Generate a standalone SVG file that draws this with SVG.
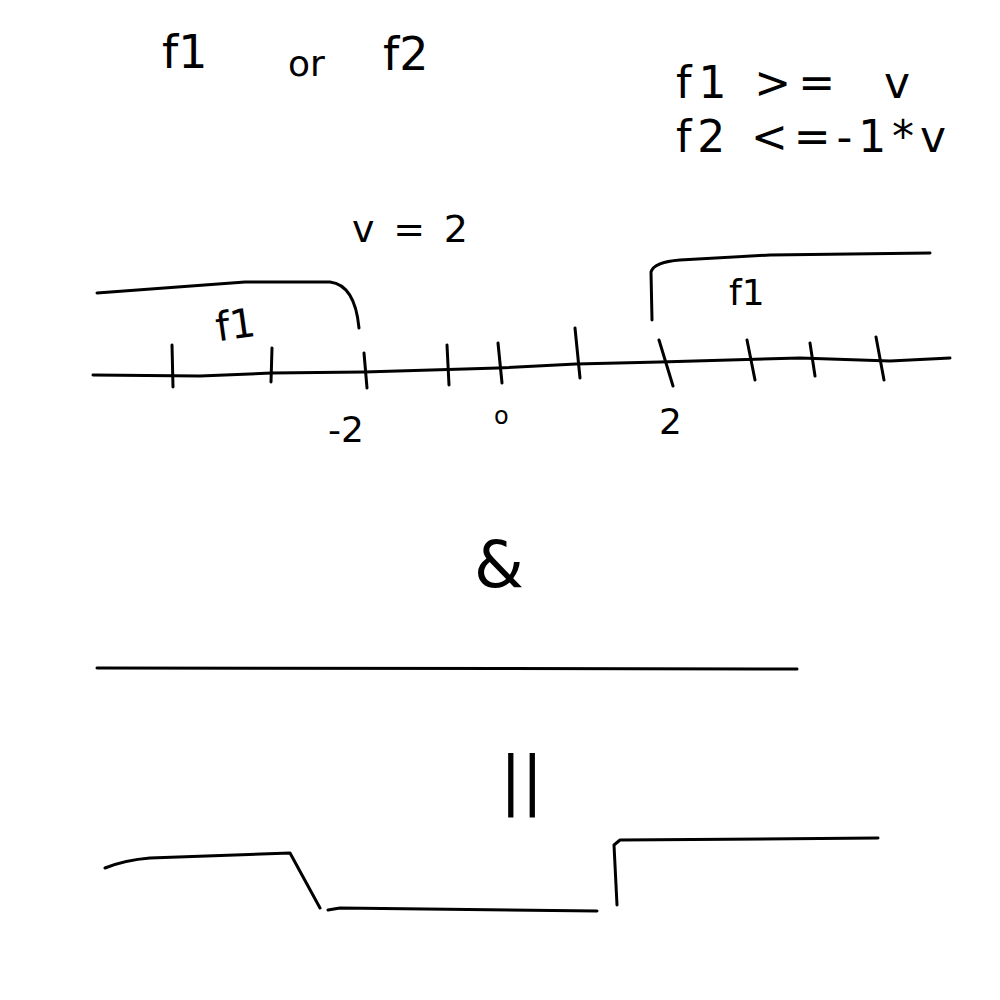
<svg xmlns="http://www.w3.org/2000/svg" width="1000" height="1000" viewBox="0 0 1000 1000">
<style>
.s{fill:none;stroke:#000;stroke-width:3;stroke-linecap:round;stroke-linejoin:round}
.t{font-family:"DejaVu Sans","Liberation Sans",sans-serif;fill:#000}
</style>
<rect width="1000" height="1000" fill="#fff"/>
<g id="title">
<text class="t" x="162" y="68" font-size="46">f1</text>
<text class="t" x="288" y="76" font-size="36">or</text>
<text class="t" x="383" y="70" font-size="46">f2</text>
</g>
<g id="conditions">
<text class="t" x="676" y="98" font-size="44" textLength="234" lengthAdjust="spacing" xml:space="preserve">f1 &gt;=  v</text>
<text class="t" x="676" y="152" font-size="44" textLength="270" lengthAdjust="spacing">f2 &lt;=-1*v</text>
</g>
<text class="t" x="352" y="242" font-size="38" textLength="116" lengthAdjust="spacing">v=2</text>
<g id="numberline">
<path class="s" d="M93,375 L200,376 L272,373 L364,372 L498,368 L576,364 L660,362 L800,358 L890,361 L950,358"/>
<path class="s" d="M172,345 L173,387 M272,348 L271,382 M364,353 L367,388 M447,345 L449,385 M498,343 L502,383 M575,328 L580,378 M659,340 L673,386 M747,340 L755,380 M810,343 L815,376 M876,337 L884,380"/>
<text class="t" x="328" y="442" font-size="36">-2</text>
<text class="t" x="494" y="424" font-size="24">o</text>
<text class="t" x="659" y="434" font-size="36">2</text>
</g>
<g id="f1-left">
<path class="s" d="M97,293 L245,282 L330,282 Q355,285 359,328"/>
<text class="t" x="215" y="338" font-size="40" transform="rotate(-8 240 320)">f1</text>
</g>
<g id="f1-right">
<path class="s" d="M652,320 L651,272 Q654,262 680,260 L770,255 L930,253"/>
<text class="t" x="729" y="305" font-size="36">f1</text>
</g>
<text id="and" class="t" x="474" y="587" font-size="64">&amp;</text>
<path id="divider" class="s" d="M97,668 L797,669"/>
<text id="equals" class="t" x="500" y="802" font-size="64">||</text>
<g id="result">
<path class="s" d="M105,868 Q125,860 150,858 L290,853 L320,908 M328,910 L340,908 L597,911 M617,905 L614,845 L620,840 L878,838"/>
</g>
</svg>
